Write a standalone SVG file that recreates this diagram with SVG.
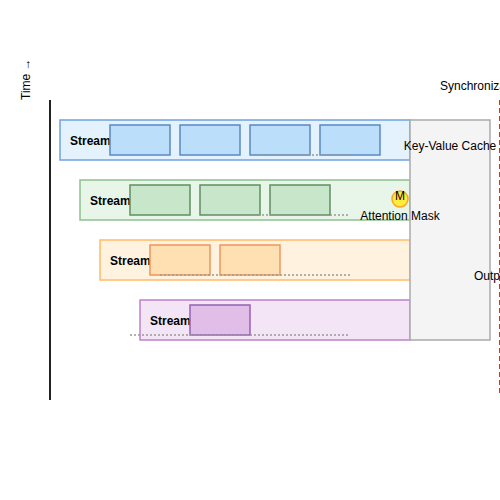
<svg xmlns="http://www.w3.org/2000/svg" width="500" height="500" viewBox="0 0 500 500">
<style>
text{font-family:"Liberation Sans",Arial,sans-serif;font-size:12px;fill:#000}
.lbl{font-weight:bold}
.blk{stroke-width:1.5}
.dot{stroke:#999;stroke-width:1.5;stroke-dasharray:2,2;fill:none}
</style>
<rect width="500" height="500" fill="#fff"/>
<g id="axis">
<line x1="50" y1="100" x2="50" y2="400" stroke="#222" stroke-width="2"/>
<text transform="translate(30,100) rotate(-90)">Time →</text>
</g>
<g id="stream1">
<rect x="60" y="120" width="350" height="40" fill="#e3f2fd" stroke="#6fa3e0" stroke-width="1.5"/>
<text class="lbl" x="70" y="145">Stream</text>
<rect class="blk" x="110" y="125" width="60" height="30" fill="#bbdefb" stroke="#5b88c4"/>
<rect class="blk" x="180" y="125" width="60" height="30" fill="#bbdefb" stroke="#5b88c4"/>
<rect class="blk" x="250" y="125" width="60" height="30" fill="#bbdefb" stroke="#5b88c4"/>
<rect class="blk" x="320" y="125" width="60" height="30" fill="#bbdefb" stroke="#5b88c4"/>
</g>
<g id="stream2">
<rect x="80" y="180" width="330" height="40" fill="#e8f5e9" stroke="#8fc08f" stroke-width="1.5"/>
<text class="lbl" x="90" y="205">Stream</text>
<rect class="blk" x="130" y="185" width="60" height="30" fill="#c8e6c9" stroke="#5f8f5f"/>
<rect class="blk" x="200" y="185" width="60" height="30" fill="#c8e6c9" stroke="#5f8f5f"/>
<rect class="blk" x="270" y="185" width="60" height="30" fill="#c8e6c9" stroke="#5f8f5f"/>
</g>
<g id="stream3">
<rect x="100" y="240" width="310" height="40" fill="#fff3e0" stroke="#ffbb66" stroke-width="1.5"/>
<text class="lbl" x="110" y="265">Stream</text>
<rect class="blk" x="150" y="245" width="60" height="30" fill="#ffe0b2" stroke="#f0955a"/>
<rect class="blk" x="220" y="245" width="60" height="30" fill="#ffe0b2" stroke="#f0955a"/>
</g>
<g id="stream4">
<rect x="140" y="300" width="270" height="40" fill="#f3e5f5" stroke="#c080cc" stroke-width="1.5"/>
<text class="lbl" x="150" y="325">Stream</text>
<rect class="blk" x="190" y="305" width="60" height="30" fill="#e1bee7" stroke="#9560b5"/>
</g>
<g id="connectors">
<line class="dot" x1="260" y1="155" x2="350" y2="155"/>
<line class="dot" x1="210" y1="215" x2="350" y2="215"/>
<line class="dot" x1="160" y1="275" x2="350" y2="275"/>
<line class="dot" x1="130" y1="335" x2="350" y2="335"/>
<line x1="500" y1="100" x2="500" y2="395" stroke="#cc3333" stroke-width="2" stroke-dasharray="5,3"/>
</g>
<g id="cache">
<rect x="410" y="120" width="80" height="220" fill="#f4f4f4" stroke="#aaa" stroke-width="1.5"/>
<text x="450" y="150" text-anchor="middle">Key-Value Cache</text>
<text x="474" y="280">Output</text>
</g>
<g id="mask">
<circle cx="400" cy="199" r="8" fill="#ffeb3b" stroke="#f5a623" stroke-width="1.5"/>
<text x="400" y="200" text-anchor="middle">M</text>
<text x="400" y="220" text-anchor="middle">Attention Mask</text>
</g>
<g id="sync">
<text x="440" y="90">Synchronization</text>
</g>
</svg>
